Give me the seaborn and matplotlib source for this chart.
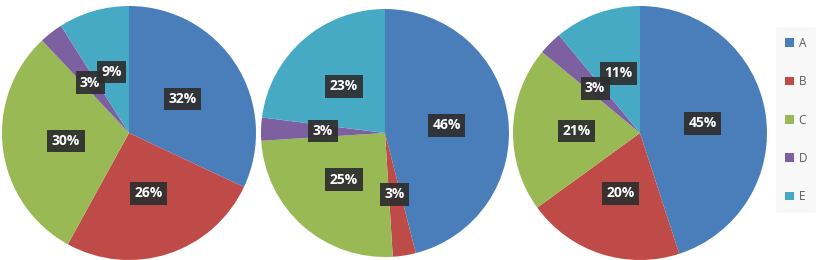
import seaborn as sns
import matplotlib.pyplot as plt
from matplotlib.patches import Patch

# Data
categories = ['A', 'B', 'C', 'D', 'E']
pie1_values = [32, 26, 30, 3, 9]
pie2_values = [46, 3, 25, 3, 23]
pie3_values = [45, 20, 21, 3, 11]

colors = ['#4a7ebb', '#be4b48', '#98b954', '#7d60a0', '#46aac5']

sns.set_theme(style="white")
plt.rcParams['font.family'] = ['Open Sans', 'DejaVu Sans']

fig = plt.figure(figsize=(8.31, 2.6), dpi=100)
W, H = 831, 260

# pixel centre and radius of each pie
layout = [(129, 133, 127), (385, 133, 124), (640, 133, 127)]

for values, (cx, cy, r) in zip([pie1_values, pie2_values, pie3_values], layout):
    ax = fig.add_axes([(cx - r) / W, (H - cy - r) / H, 2 * r / W, 2 * r / H])
    wedges, texts, autotexts = ax.pie(
        values, colors=colors, startangle=90, counterclock=False,
        autopct='%d%%', pctdistance=0.5, radius=1,
        wedgeprops=dict(linewidth=0))
    for t in autotexts:
        t.set_color('white')
        t.set_fontsize(10)
        t.set_fontweight('bold')
        t.set_bbox(dict(boxstyle='square,pad=0.32', facecolor='#2e2e2e',
                        edgecolor='none', alpha=0.92))
    ax.set_xlim(-1, 1)
    ax.set_ylim(-1, 1)
    ax.set_aspect('equal')
    ax.axis('off')

handles = [Patch(facecolor=c, edgecolor='none') for c in colors]
leg = fig.legend(handles, categories, loc='center', bbox_to_anchor=(796 / W, 1 - 120 / H),
                 frameon=True, fontsize=8.5, handlelength=0.75, handleheight=0.75,
                 handletextpad=0.4, labelspacing=2.15, borderpad=0.8)
leg.get_frame().set_facecolor('#f7f7f7')
leg.get_frame().set_edgecolor('none')
for t in leg.get_texts():
    t.set_color('#595959')

fig.savefig('out.png', dpi=100)
